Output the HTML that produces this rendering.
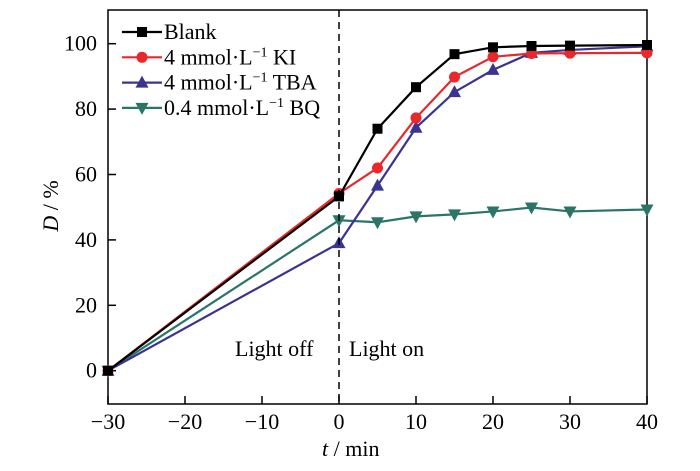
<!DOCTYPE html>
<html><head><meta charset="utf-8"><style>
body{margin:0;background:#fff}
svg text{font-family:"Liberation Serif",serif;}
</style></head><body>
<svg id="chart" width="700" height="466">
<rect x="108" y="10" width="539" height="394" fill="none" stroke="#000" stroke-width="1.5"/>
<g id="axes"></g><g id="series"></g>
<line x1="339" x2="339" y1="10" y2="404" stroke="#000" stroke-width="1.5" stroke-dasharray="7,5"/>
<text x="235" y="356" font-size="22">Light off</text>
<text x="349" y="356" font-size="22">Light on</text>
<text x="322" y="456" font-size="22"><tspan font-style="italic">t</tspan> / min</text>
<text transform="translate(58,206) rotate(-90)" text-anchor="middle" font-size="22"><tspan font-style="italic">D</tspan> / %</text>
<g id="legend"></g>
</svg>
<script>
const xs=[-30,0,5,10,15,20,25,30,40];
const blank=[0,53.3,74,86.7,96.8,98.9,99.3,99.4,99.6];
const ki=[0,54.2,62,77.3,89.8,96,97,97.1,97.2];
const tba=[0,39,56.6,74.3,85.2,92,97.2,98.1,99.2];
const bq=[0,46,45.4,47.2,47.8,48.7,49.9,48.7,49.3];
const xTicks=[-30,-20,-10,0,10,20,30,40];
const yTicks=[0,20,40,60,80,100];
const seriesNames=["Blank","4 mmol\u00b7L","4 mmol\u00b7L","0.4 mmol\u00b7L"];
const seriesSuffix=["",  " KI"," TBA"," BQ"];
const colors=["#000000","#e8282a","#3b3390","#2a7468"];
const markers=["square","circle","up","down"];
const X=v=>108+(v+30)*539/70, Y=v=>370.7-v*3.27;
const NS="http://www.w3.org/2000/svg";
function mk(t,a,p){const e=document.createElementNS(NS,t);for(const k in a)e.setAttribute(k,a[k]);p.appendChild(e);return e;}
const ax=document.getElementById('axes');
xTicks.forEach(v=>{
 const l=mk('line',{x1:X(v),x2:X(v),y1:404,y2:396,stroke:'#000','stroke-width':1.5},ax);
 
 
 const t=mk('text',{x:X(v),y:429,'text-anchor':'middle','font-size':22},ax);t.textContent=(v<0?'\u2212'+(-v):v);
 
 
});
yTicks.forEach(v=>{
 const l=mk('line',{x1:108,x2:116,y1:Y(v),y2:Y(v),stroke:'#000','stroke-width':1.5},ax);
 
 
 const t=mk('text',{x:97,y:Y(v)+7,'text-anchor':'end','font-size':22},ax);t.textContent=v;
 
 
});
function marker(type,x,y,c,p){
 let e;
 if(type=='square')e=mk('rect',{x:x-5,y:y-5,width:10,height:10,fill:c},p);
 else if(type=='circle')e=mk('circle',{cx:x,cy:y,r:5.5,fill:c},p);
 else if(type=='up')e=mk('polygon',{points:`${x},${y-7} ${x-6.5},${y+5} ${x+6.5},${y+5}`,fill:c},p);
 else e=mk('polygon',{points:`${x},${y+7} ${x-6.5},${y-5} ${x+6.5},${y-5}`,fill:c},p);
 return e;
}
const sg=document.getElementById('series');
const data=[blank,ki,tba,bq];
const order=[3,2,1,0];
order.forEach(i=>{
 const d=data[i];
 const pl=mk('polyline',{points:xs.map((x,j)=>X(x)+','+Y(d[j])).join(' '),fill:'none',stroke:colors[i],'stroke-width':2.2},sg);
 
 
 xs.forEach((x,j)=>{const m=marker(markers[i],X(x),Y(d[j]),colors[i],sg);
  
  });
});
const lg=document.getElementById('legend');
seriesNames.forEach((n,i)=>{
 const y=32+i*25.3;
 const l=mk('line',{x1:122,x2:162,y1:y,y2:y,stroke:colors[i],'stroke-width':2.2},lg);
 
 
 const m=marker(markers[i],142,y,colors[i],lg);
 
 
 const t=mk('text',{x:164,y:y+7,'font-size':22},lg);
 
 
 if(i==0)t.textContent=n;
 else{t.textContent=n;const s=mk('tspan',{dy:-8,'font-size':14},t);s.textContent='\u22121';const r=mk('tspan',{dy:8},t);r.textContent=seriesSuffix[i];}
});
</script>
</body></html>
